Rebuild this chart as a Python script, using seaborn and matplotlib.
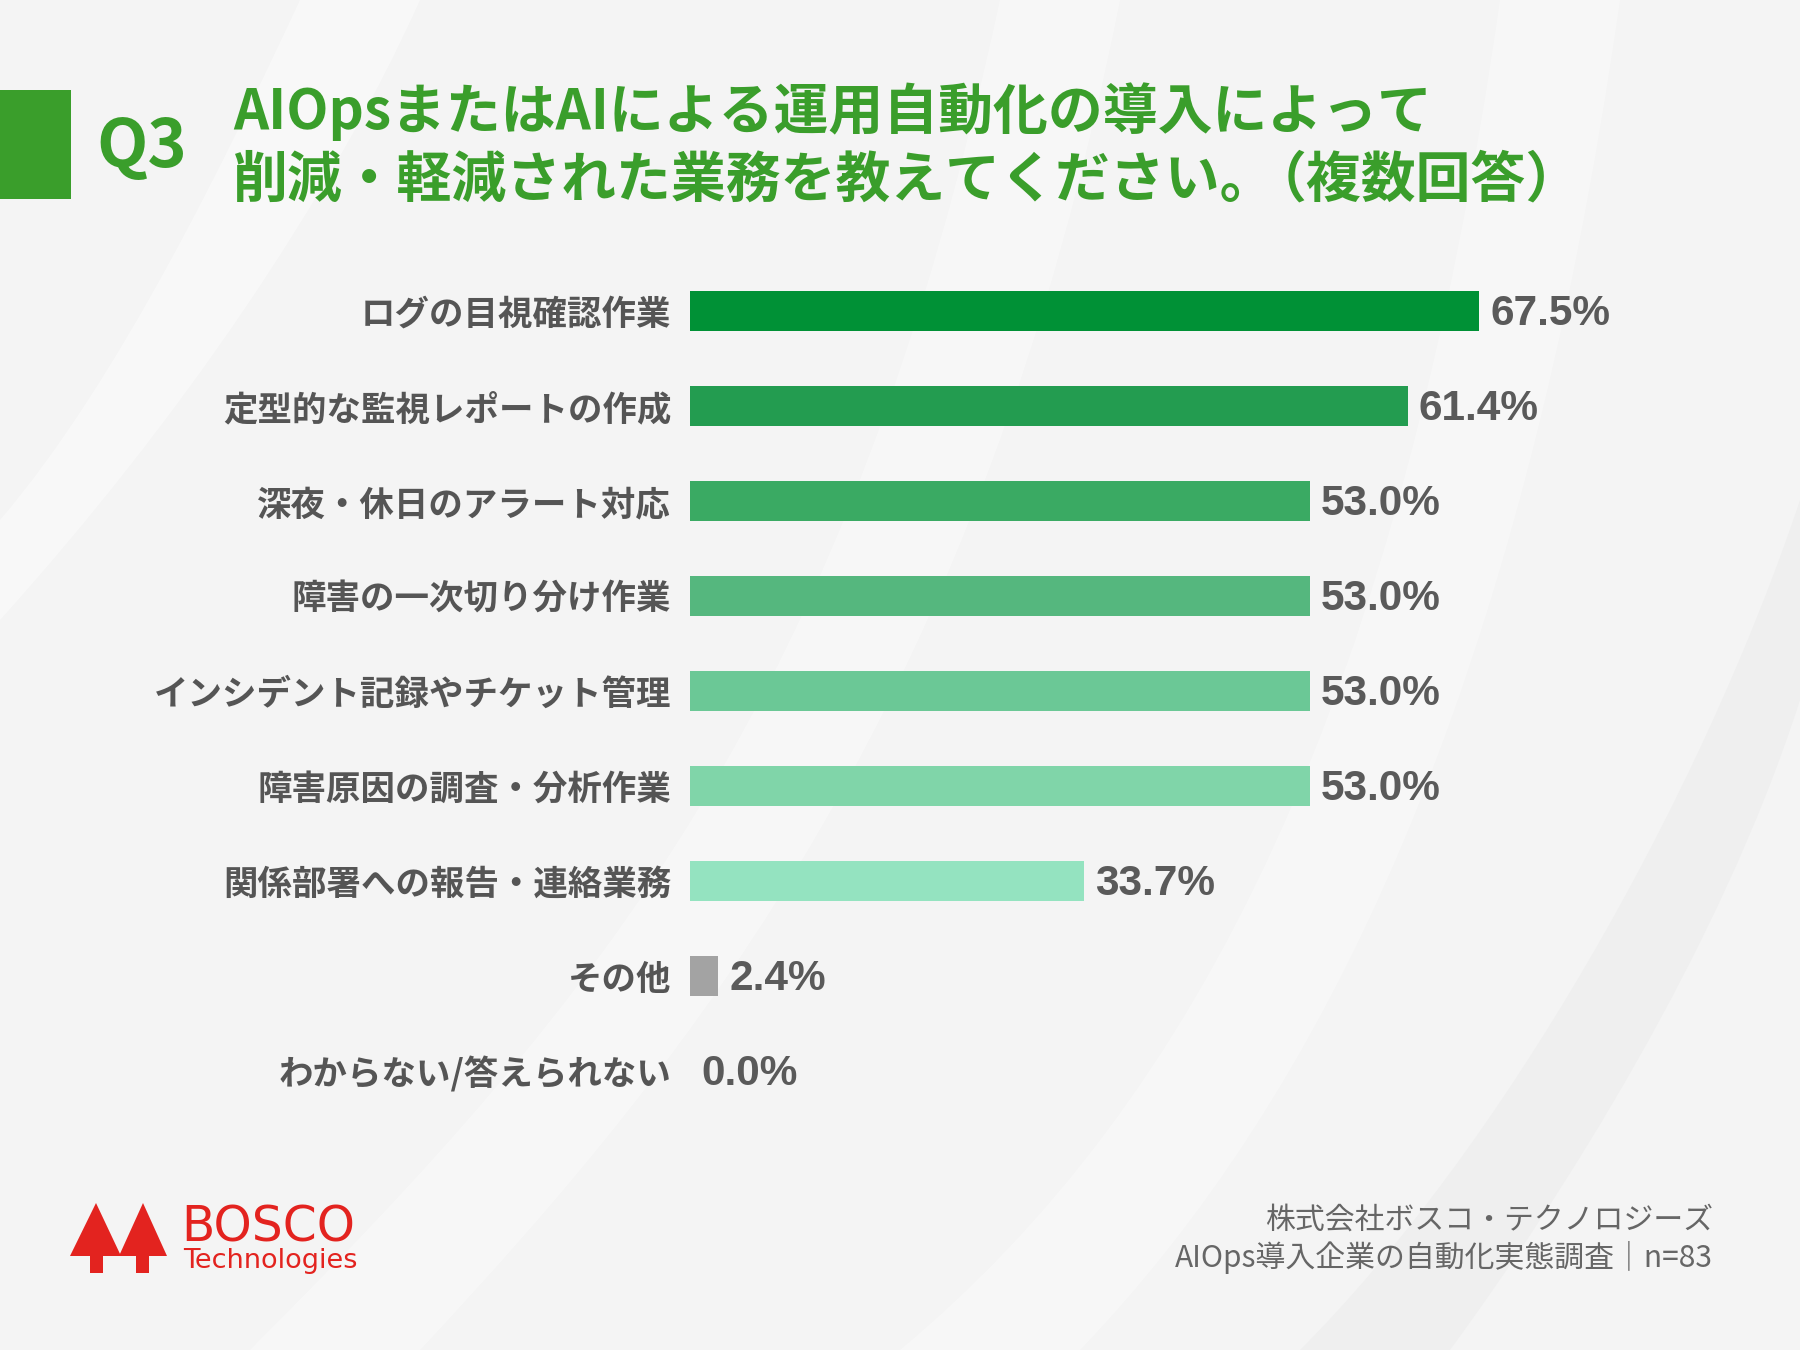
import matplotlib
matplotlib.use("Agg")
import matplotlib.pyplot as plt
import seaborn as sns
import pandas as pd
import numpy as np
from matplotlib.patches import Polygon, Rectangle, PathPatch
from matplotlib.path import Path

# ---- data ----
categories = [
    "ログの目視確認作業",
    "定型的な監視レポートの作成",
    "深夜・休日のアラート対応",
    "障害の一次切り分け作業",
    "インシデント記録やチケット管理",
    "障害原因の調査・分析作業",
    "関係部署への報告・連絡業務",
    "その他",
    "わからない/答えられない",
]
values = [67.5, 61.4, 53.0, 53.0, 53.0, 53.0, 33.7, 2.4, 0.0]
bar_colors = ["#009136", "#239c50", "#3aaa63", "#55b77e", "#6bc896",
              "#80d5a9", "#94e3c0", "#a3a3a3", "#a3a3a3"]
title_line1 = "AIOpsまたはAIによる運用自動化の導入によって"
title_line2a = "削減・軽減された業務を教えてください。"
title_line2b = "（複数回答）"
footer_lines = ["株式会社ボスコ・テクノロジーズ",
                "AIOps導入企業の自動化実態調査｜n=83"]

df = pd.DataFrame({"category": categories, "value": values})

sns.set_theme(style="white")
plt.rcParams["font.family"] = ["Noto Sans CJK JP", "DejaVu Sans"]

W, H = 1800, 1350
fig = plt.figure(figsize=(18, 13.5), dpi=100)
fig.patch.set_facecolor("#f4f4f4")

# ---- background / decoration layer in pixel coordinates ----
bg = fig.add_axes([0, 0, 1, 1], zorder=0)
bg.set_xlim(0, W)
bg.set_ylim(H, 0)
bg.axis("off")

def band(p0, c1, c2, p3, q3, d2, d1, q0, color, alpha):
    verts = [p0, c1, c2, p3, q3, d2, d1, q0, p0]
    codes = [Path.MOVETO, Path.CURVE4, Path.CURVE4, Path.CURVE4,
             Path.LINETO, Path.CURVE4, Path.CURVE4, Path.CURVE4, Path.CLOSEPOLY]
    bg.add_patch(PathPatch(Path(verts, codes), facecolor=color,
                           edgecolor="none", alpha=alpha))

band((0, 520), (120, 380), (230, 150), (300, 0), (420, 0), (330, 200), (180, 420), (0, 620), "white", 0.4)
band((250, H), (600, 1000), (850, 700), (1000, 0), (1120, 0), (980, 700), (700, 1050), (420, H), "white", 0.35)
band((900, H), (1200, 1100), (1400, 700), (1500, 0), (1620, 0), (1520, 700), (1320, 1100), (1080, H), "white", 0.3)
band((1300, H), (1500, 1150), (1700, 800), (1800, 500), (1800, 700), (1720, 950), (1560, 1200), (1450, H), "#e9e9e9", 0.45)

green = "#3a9e2b"
bg.add_patch(Rectangle((0, 90), 71, 109, facecolor=green, edgecolor="none"))
bg.text(96, 148, "Q3", fontsize=48, fontweight="bold", color=green,
        ha="left", va="center")
bg.text(233, 112, title_line1, fontsize=39.5, fontweight="bold", color=green,
        ha="left", va="center")
t2a = bg.text(233, 180, title_line2a, fontsize=39.5, fontweight="bold", color=green,
              ha="left", va="center")
fig.canvas.draw()
bb = t2a.get_window_extent(renderer=fig.canvas.get_renderer())
x_end = bb.x1 - 24
bg.text(x_end, 180, title_line2b, fontsize=39.5, fontweight="bold", color=green,
        ha="left", va="center")

# logo
red = "#e3231f"
bg.add_patch(Polygon([(96, 1203), (70, 1256), (90, 1256), (90, 1273), (103, 1273),
                      (103, 1256), (121, 1256)], closed=True, facecolor=red, edgecolor="none"))
bg.add_patch(Polygon([(143, 1203), (119, 1256), (136, 1256), (136, 1273), (149, 1273),
                      (149, 1256), (167, 1256)], closed=True, facecolor=red, edgecolor="none"))
bg.text(181, 1227, "BOSCO", fontsize=35, color=red, ha="left", va="center",
        family=["DejaVu Sans"])
bg.text(183, 1261, "Technologies", fontsize=19.5, color=red, ha="left", va="center",
        family=["DejaVu Sans"])

# footer
bg.text(1713, 1220, footer_lines[0], fontsize=21.5, color="#666666", ha="right", va="center")
bg.text(1713, 1257, footer_lines[1], fontsize=21.5, color="#666666", ha="right", va="center")

# ---- chart ----
px_per_pct = 11.69
xmax = 80
left_px, top_px = 690, 263.5
row_h = 95
ax = fig.add_axes([left_px / W, 1 - (top_px + row_h * len(categories)) / H,
                   xmax * px_per_pct / W, row_h * len(categories) / H], zorder=1)
ax.set_facecolor("none")

sns.barplot(data=df, y="category", x="value", hue="category",
            palette=bar_colors, legend=False, width=0.43, ax=ax,
            saturation=1, edgecolor="none", linewidth=0)

for cont, v in zip(ax.containers, values):
    anns = ax.bar_label(cont, labels=[f"{v:.1f}%"], padding=8, fontsize=30.5,
                        fontweight="bold", color="#5a5a5a",
                        family=["Liberation Sans", "DejaVu Sans"])
    for a in anns:
        a.xyann = (8, -2.5)

ax.set_xlim(0, xmax)
ax.set_ylim(len(categories) - 0.5, -0.5)
ax.set_xlabel("")
ax.set_ylabel("")
ax.set_xticks([])
ax.tick_params(axis="y", length=0, pad=13.5)
for lbl in ax.get_yticklabels():
    lbl.set_fontsize(24.8)
    lbl.set_fontweight("bold")
    lbl.set_color("#555555")
for s in ax.spines.values():
    s.set_visible(False)

fig.savefig("out.png", dpi=100, facecolor=fig.get_facecolor())
